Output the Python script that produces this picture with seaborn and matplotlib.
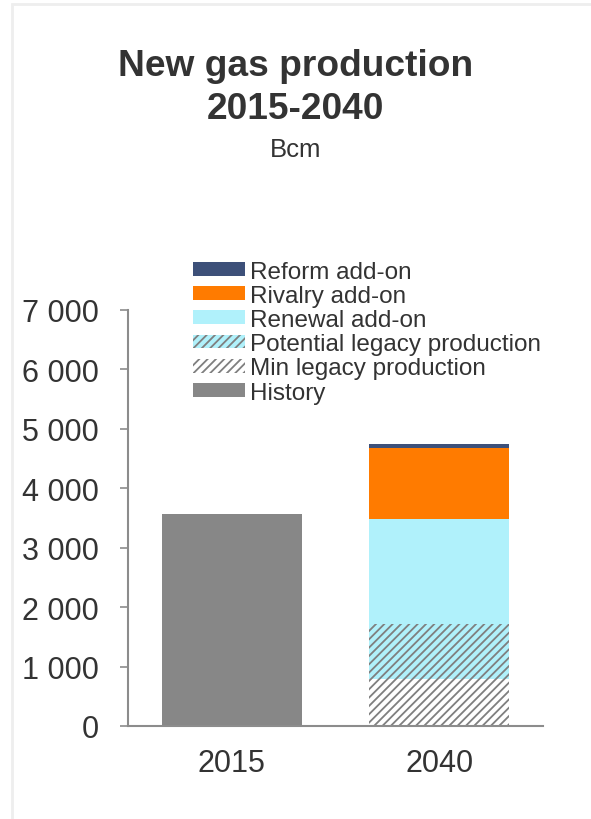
import matplotlib
matplotlib.use("Agg")
import matplotlib.pyplot as plt
import seaborn as sns
import pandas as pd
from matplotlib.patches import Patch, Rectangle

# ─────────────────────────────────────────────
# Data (Bcm)
# ─────────────────────────────────────────────
years = ["2015", "2040"]
history = [3570, 0]
min_legacy = [0, 790]
potential_legacy = [0, 930]
renewal_addon = [0, 1765]
rivalry_addon = [0, 1195]
reform_addon = [0, 65]

series_names = ["Reform add-on", "Rivalry add-on", "Renewal add-on",
                "Potential legacy production", "Min legacy production", "History"]

sns.set_theme(style="white")
plt.rcParams["font.family"] = ["Liberation Sans", "DejaVu Sans"]
plt.rcParams["hatch.linewidth"] = 1.3
plt.rcParams["hatch.color"] = "#7f7f7f"

TEXT = "#333333"
AXIS = "#8c8c8c"
colors = {
    "Reform add-on": "#3d5079",
    "Rivalry add-on": "#ff7b00",
    "Renewal add-on": "#b0f1fb",
    "Potential legacy production": "#b0f1fb",
    "Min legacy production": "#ffffff",
    "History": "#878787",
}
hatches = {"Potential legacy production": "////", "Min legacy production": "////"}

# cumulative tops, drawn tallest first so lower layers cover them
stack_order = ["Min legacy production", "Potential legacy production",
               "Renewal add-on", "Rivalry add-on", "Reform add-on"]
segments = {
    "Min legacy production": min_legacy,
    "Potential legacy production": potential_legacy,
    "Renewal add-on": renewal_addon,
    "Rivalry add-on": rivalry_addon,
    "Reform add-on": reform_addon,
}
cum = {}
running = [0, 0]
for name in stack_order:
    running = [r + v for r, v in zip(running, segments[name])]
    cum[name] = list(running)

fig = plt.figure(figsize=(5.91, 8.20), dpi=100)
ax = fig.add_axes([128 / 591, 93 / 820, 415 / 591, 416 / 820])

W = 0.675
for name in reversed(stack_order):
    df = pd.DataFrame({"year": years, "value": cum[name]})
    sns.barplot(data=df, x="year", y="value", color=colors[name], width=W,
                hatch=hatches.get(name), edgecolor="#7f7f7f", linewidth=0,
                saturation=1, ax=ax)

df_hist = pd.DataFrame({"year": years, "value": history})
sns.barplot(data=df_hist, x="year", y="value", color=colors["History"], width=W,
            linewidth=0, saturation=1, ax=ax)

ax.set_xlim(-0.5, 1.5)
ax.set_ylim(0, 7000)
ax.set_yticks(range(0, 7001, 1000))
ax.set_yticklabels([f"{v:,}".replace(",", " ") for v in range(0, 7001, 1000)])
ax.set_xlabel("")
ax.set_ylabel("")
for s in ["top", "right"]:
    ax.spines[s].set_visible(False)
for s in ["left", "bottom"]:
    ax.spines[s].set_color(AXIS)
    ax.spines[s].set_linewidth(1.5)
ax.tick_params(axis="y", left=True, length=6, width=1.2, color=AXIS,
               labelsize=22, labelcolor=TEXT, pad=15)
ax.tick_params(axis="x", bottom=False, labelsize=22, labelcolor=TEXT, pad=10)

handles = []
for name in series_names:
    handles.append(Patch(facecolor=colors[name], hatch=hatches.get(name),
                         edgecolor="#7f7f7f", linewidth=0, label=name))
leg = fig.legend(handles=handles, loc="upper left",
                 bbox_to_anchor=(178 / 591, 1 - 247 / 820), frameon=False,
                 fontsize=17.5, handlelength=2.15, handleheight=0.5,
                 handletextpad=0.2, labelspacing=0.09, borderpad=0.1)
for t in leg.get_texts():
    t.set_color(TEXT)

fig.text(0.5, 1 - 88 / 820, "New gas production\n2015-2040", ha="center",
         va="center", fontsize=26.7, fontweight="bold", color=TEXT, linespacing=1.27)
fig.text(0.5, 1 - 150 / 820, "Bcm", ha="center", va="center", fontsize=18.5,
         color=TEXT)

# faint frame around the chart
fig.patches.append(Rectangle((12 / 591, -0.05), 1.0, 1 - 5 / 820 + 0.05,
                             transform=fig.transFigure, fill=False,
                             edgecolor="#eeeeee", linewidth=2))

plt.savefig("out.png", dpi=100)
plt.close()
